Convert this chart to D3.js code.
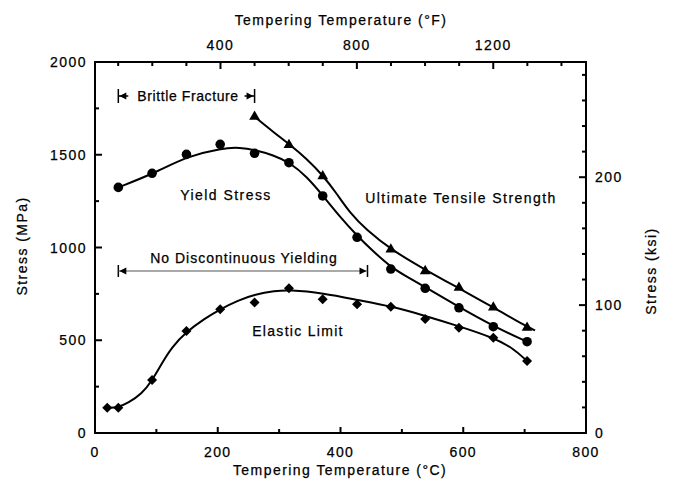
<!DOCTYPE html>
<html><head><meta charset="utf-8">
<script src="https://cdn.jsdelivr.net/npm/d3@7"></script>
<style>
body{margin:0;background:#fff;}
text{font-family:"Liberation Sans",Arial,Helvetica,sans-serif;font-size:14px;letter-spacing:1.45px;fill:#000;stroke:#000;stroke-width:0.25px;}
</style>
</head><body>
<svg id="c" width="673" height="483"></svg>
<script>
// ---- data (°C, MPa) ----
const tempYieldC = [38,93,149,204,260,316,371,427,482,538,593,649,704];
const yieldStress = [1324,1400,1502,1556,1508,1457,1278,1055,884,780,675,573,492];
const tempUtsC = [260,316,371,482,538,593,649,704];
const utsStress = [1705,1553,1385,990,873,783,677,568];
const tempElasticC = [20,38,93,149,204,260,316,371,427,482,538,593,649,704];
const elasticStress = [136,136,286,550,667,704,780,721,694,681,614,568,514,388];
// fitted curves as drawn in the figure
const yieldFitC = [38,95,151,206,236,262,290,318,345,372,399,426,453,483,508,538,593,649,704];
const yieldFit = [1324,1398,1493,1535,1540,1524,1499,1457,1382,1277,1166,1067,980,892,843,787,679,576,492];
const utsFitC = [260,290,318,345,371,394,415,442,483,538,593,649,704,717];
const utsFit = [1705,1624,1553,1478,1390,1290,1188,1096,987,880,780,677,572,553];
const elasticFitC = [20,38,54,76,93,109,125,149,179,204,233,261,293,316,372,428,483,538,593,649,681,704];
const elasticFit = [136,138,162,210,282,376,462,546,618,667,715,747,766,772,754,717,683,632,576,514,458,388];
// axes
const xTicksC = [0,100,200,300,400,500,600,700,800];
const xLabelsC = [0,200,400,600,800];
const xTicksF = [100,200,300,400,500,600,700,800,900,1000,1100,1200,1300,1400];
const xLabelsF = [400,800,1200];
const yTicksMPa = [0,250,500,750,1000,1250,1500,1750,2000];
const yLabelsMPa = [0,500,1000,1500,2000];
const yTicksKsi = [0,20,40,60,80,100,120,140,160,180,200,220,240,260,280];
const yLabelsKsi = [0,100,200];
// annotations
const brittleRangeC = [38,260];
const noDiscRangeC = [38,444];

const svg = d3.select("#c");
const L=95, R=586, T=62, B=433;
const x = d3.scaleLinear().domain([0,800]).range([L,R]);
const xF = d3.scaleLinear().domain([32,800*9/5+32]).range([L,R]);
const y = d3.scaleLinear().domain([0,2000]).range([B,T]);
const yK = d3.scaleLinear().domain([0,2000/6.894757]).range([B,T]);

// frame
svg.append("rect").attr("x",L).attr("y",T).attr("width",R-L).attr("height",B-T)
  .attr("fill","none").attr("stroke","#000").attr("stroke-width",2);

const tickG = svg.append("g").attr("stroke","#000").attr("stroke-width",2);
xTicksC.forEach(v=>{const len = xLabelsC.includes(v)?6:4;
  tickG.append("line").attr("x1",x(v)).attr("x2",x(v)).attr("y1",B).attr("y2",B-len);});
xTicksF.forEach(v=>{const len = xLabelsF.includes(v)?7:4;
  tickG.append("line").attr("x1",xF(v)).attr("x2",xF(v)).attr("y1",T).attr("y2",T+len);});
yTicksMPa.forEach(v=>{const len = yLabelsMPa.includes(v)?7:4;
  tickG.append("line").attr("x1",L).attr("x2",L+len).attr("y1",y(v)).attr("y2",y(v));});
yTicksKsi.forEach(v=>{const len = yLabelsKsi.includes(v)?7:4;
  tickG.append("line").attr("x1",R).attr("x2",R-len).attr("y1",yK(v)).attr("y2",yK(v));});

// tick labels
xLabelsC.forEach(v=>svg.append("text").attr("x",x(v)).attr("y",452).attr("text-anchor","middle").attr("dominant-baseline","central").text(v));
xLabelsF.forEach(v=>svg.append("text").attr("x",xF(v)).attr("y",45).attr("text-anchor","middle").attr("dominant-baseline","central").text(v));
yLabelsMPa.forEach(v=>svg.append("text").attr("x",87).attr("y",y(v)).attr("text-anchor","end").attr("dominant-baseline","central").text(v));
yLabelsKsi.forEach(v=>svg.append("text").attr("x",595).attr("y",yK(v)).attr("text-anchor","start").attr("dominant-baseline","central").text(v));

// titles
svg.append("text").attr("x",341).attr("y",20).attr("text-anchor","middle").attr("dominant-baseline","central").text("Tempering Temperature (°F)");
svg.append("text").attr("x",340).attr("y",470).attr("text-anchor","middle").attr("dominant-baseline","central").text("Tempering Temperature (°C)");
svg.append("text").attr("transform","translate(22,246) rotate(-90)").attr("text-anchor","middle").attr("dominant-baseline","central").text("Stress (MPa)");
svg.append("text").attr("transform","translate(651,271) rotate(-90)").attr("text-anchor","middle").attr("dominant-baseline","central").text("Stress (ksi)");

// curves
const line = d3.line().x(d=>x(d[0])).y(d=>y(d[1])).curve(d3.curveBasis);
[[yieldFitC,yieldFit],[utsFitC,utsFit],[elasticFitC,elasticFit]].forEach(([xs,ys])=>{
  svg.append("path").attr("d",line(xs.map((v,i)=>[v,ys[i]])))
    .attr("fill","none").attr("stroke","#000").attr("stroke-width",2);
});

// markers
const sym = d3.symbol();
tempYieldC.forEach((v,i)=>svg.append("path").attr("d",sym.type(d3.symbolCircle).size(72)())
  .attr("transform",`translate(${x(v)},${y(yieldStress[i])})`).attr("fill","#000"));
tempUtsC.forEach((v,i)=>svg.append("path").attr("d",sym.type(d3.symbolTriangle).size(50)())
  .attr("transform",`translate(${x(v)},${y(utsStress[i])})`).attr("fill","#000"));
tempElasticC.forEach((v,i)=>svg.append("path").attr("d",sym.type(d3.symbolSquare).size(50)())
  .attr("transform",`translate(${x(v)},${y(elasticStress[i])}) rotate(45)`).attr("fill","#000"));

// annotation labels
const lab=(t,cx,cy,ls)=>svg.append("text").attr("x",cx).attr("y",cy).attr("text-anchor","middle").attr("dominant-baseline","central").style("letter-spacing",ls+"px").text(t);
lab("Yield Stress",226,195,1.45);
lab("Ultimate Tensile Strength",461,198,1.45);
lab("No Discontinuous Yielding",244,258,1.0);
lab("Elastic Limit",298,331,1.3);
lab("Brittle Fracture",188,96,0.6);

// range arrows
function arrowHead(g,xt,yc,dir){ // dir -1 points left, +1 points right
  g.append("path").attr("d",`M${xt},${yc} L${xt-dir*7},${yc-3.5} L${xt-dir*7},${yc+3.5} Z`).attr("fill","#000");
}
// brittle
{
  const g=svg.append("g"); const yc=96; const x1=x(brittleRangeC[0]), x2=x(brittleRangeC[1]);
  g.append("line").attr("x1",x1).attr("x2",x1).attr("y1",yc-7).attr("y2",yc+7).attr("stroke","#000").attr("stroke-width",1.5);
  g.append("line").attr("x1",x2).attr("x2",x2).attr("y1",yc-7).attr("y2",yc+7).attr("stroke","#000").attr("stroke-width",1.5);
  g.append("line").attr("x1",x1).attr("x2",x1+10).attr("y1",yc).attr("y2",yc).attr("stroke","#000").attr("stroke-width",1.5);
  g.append("line").attr("x1",x2-10).attr("x2",x2).attr("y1",yc).attr("y2",yc).attr("stroke","#000").attr("stroke-width",1.5);
  arrowHead(g,x1+1,yc,-1); arrowHead(g,x2-1,yc,1);
}
// no discontinuous yielding
{
  const g=svg.append("g"); const yc=271; const x1=x(noDiscRangeC[0]), x2=x(noDiscRangeC[1]);
  g.append("line").attr("x1",x1).attr("x2",x1).attr("y1",yc-6).attr("y2",yc+6).attr("stroke","#000").attr("stroke-width",1.5);
  g.append("line").attr("x1",x2).attr("x2",x2).attr("y1",yc-6).attr("y2",yc+6).attr("stroke","#000").attr("stroke-width",1.5);
  g.append("line").attr("x1",x1).attr("x2",x2).attr("y1",yc).attr("y2",yc).attr("stroke","#555").attr("stroke-width",1);
  arrowHead(g,x1+1,yc,-1); arrowHead(g,x2-1,yc,1);
}
</script>
</body></html>
